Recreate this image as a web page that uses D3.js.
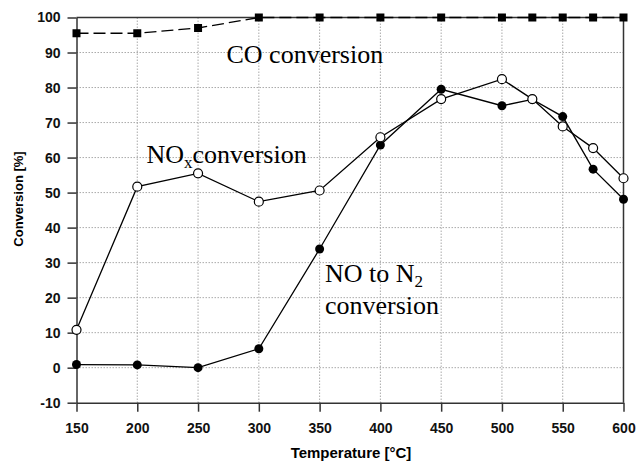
<!DOCTYPE html>
<html><head><meta charset="utf-8">
<script src="https://cdn.jsdelivr.net/npm/d3@7/dist/d3.min.js"></script>
<style>body{margin:0;background:#fff}</style>
</head><body>
<svg id="c" width="638" height="462"></svg>
<script>
const temps = [150,200,250,300,350,400,450,500,525,550,575,600];
const coConv = [95.5,95.5,97.0,100,100,100,100,100,100,100,100,100];
const noxConv = [10.8,51.7,55.5,47.4,50.6,65.8,76.7,82.4,76.7,68.9,62.7,54.1];
const n2Conv = [0.9,0.8,0.0,5.4,33.9,63.6,79.5,74.8,76.6,71.7,56.7,48.1];
const xTicks = [150,200,250,300,350,400,450,500,550,600];
const yTicks = [-10,0,10,20,30,40,50,60,70,80,90,100];

const svg = d3.select("#c");
const L=76.5,R=623.5,T=17.5,B=402.7;
const x = d3.scaleLinear().domain([150,600]).range([L,R]);
const y = d3.scaleLinear().domain([-10,100]).range([B,T]);
const axisCol="#333";

// grid
const g = svg.append("g");
yTicks.filter(v=>v>=0&&v<100).forEach(v=>{
  g.append("line").attr("x1",L).attr("x2",R).attr("y1",y(v)).attr("y2",y(v))
   .attr("stroke","#aaa").attr("stroke-width",1).attr("stroke-dasharray","1.5,1.5");
});
xTicks.filter(v=>v>150&&v<600).forEach(v=>{
  g.append("line").attr("x1",x(v)).attr("x2",x(v)).attr("y1",T).attr("y2",B)
   .attr("stroke","#aaa").attr("stroke-width",1).attr("stroke-dasharray","1.5,1.5");
});

// axes
const xa = svg.append("g").attr("transform",`translate(0,${B})`)
  .call(d3.axisBottom(x).tickValues(xTicks).tickFormat(d=>String(d)).tickSize(9).tickPadding(11).tickSizeOuter(0));
const ya = svg.append("g").attr("transform",`translate(${L},0)`)
  .call(d3.axisLeft(y).tickValues(yTicks).tickFormat(d=>String(d)).tickSize(9).tickPadding(7).tickSizeOuter(0));
[xa,ya].forEach(a=>{
  a.selectAll("path,line").attr("stroke",axisCol).attr("stroke-width",1.5);
  a.selectAll("text").attr("font-family","Liberation Sans, Arial, sans-serif")
   .attr("font-weight","bold").attr("font-size",14).attr("fill","#111");
});
svg.append("line").attr("x1",L).attr("x2",R).attr("y1",T).attr("y2",T).attr("stroke",axisCol).attr("stroke-width",1.5);
svg.append("line").attr("x1",R).attr("x2",R).attr("y1",T).attr("y2",B).attr("stroke",axisCol).attr("stroke-width",1.5);

// axis titles
svg.append("text").attr("x",351).attr("y",458).attr("text-anchor","middle")
  .attr("font-family","Liberation Sans, Arial, sans-serif").attr("font-weight","bold")
  .attr("font-size",15).text("Temperature [°C]");
svg.append("text").attr("transform","translate(22.5,199) rotate(-90)").attr("text-anchor","middle")
  .attr("font-family","Liberation Sans, Arial, sans-serif").attr("font-weight","bold")
  .attr("font-size",13).text("Conversion [%]");

const line = d3.line().x(d=>x(d[0])).y(d=>y(d[1]));
const zip = arr => temps.map((t,i)=>[t,arr[i]]);

// CO
svg.append("path").datum(zip(coConv)).attr("d",line).attr("fill","none")
  .attr("stroke","#000").attr("stroke-width",1.3).attr("stroke-dasharray","12,5");
svg.selectAll(".sq").data(zip(coConv)).enter().append("rect")
  .attr("x",d=>x(d[0])-4).attr("y",d=>y(d[1])-4).attr("width",8).attr("height",8).attr("fill","#000");

// NO to N2
svg.append("path").datum(zip(n2Conv)).attr("d",line).attr("fill","none")
  .attr("stroke","#000").attr("stroke-width",1.3);
// NOx
svg.append("path").datum(zip(noxConv)).attr("d",line).attr("fill","none")
  .attr("stroke","#000").attr("stroke-width",1.3);
svg.selectAll(".fc").data(zip(n2Conv)).enter().append("circle")
  .attr("cx",d=>x(d[0])).attr("cy",d=>y(d[1])).attr("r",4.5).attr("fill","#000");
svg.selectAll(".oc").data(zip(noxConv)).enter().append("circle")
  .attr("cx",d=>x(d[0])).attr("cy",d=>y(d[1])).attr("r",4.5).attr("fill","#fff")
  .attr("stroke","#000").attr("stroke-width",1.2);

// annotations
const serif = "Liberation Serif, Times New Roman, serif";
svg.append("text").attr("x",226.5).attr("y",63).attr("font-family",serif).attr("font-size",26).text("CO conversion");
const t2 = svg.append("text").attr("x",146.5).attr("y",163).attr("font-family",serif).attr("font-size",26);
t2.append("tspan").text("NO");
t2.append("tspan").attr("font-size",17).attr("dy",5).text("x");
t2.append("tspan").attr("dy",-5).text("conversion");
const t3 = svg.append("text").attr("x",325).attr("y",281.5).attr("font-family",serif).attr("font-size",26);
t3.append("tspan").text("NO to N");
t3.append("tspan").attr("font-size",17).attr("dy",5).text("2");
svg.append("text").attr("x",325).attr("y",313.5).attr("font-family",serif).attr("font-size",26).text("conversion");
</script>
</body></html>
